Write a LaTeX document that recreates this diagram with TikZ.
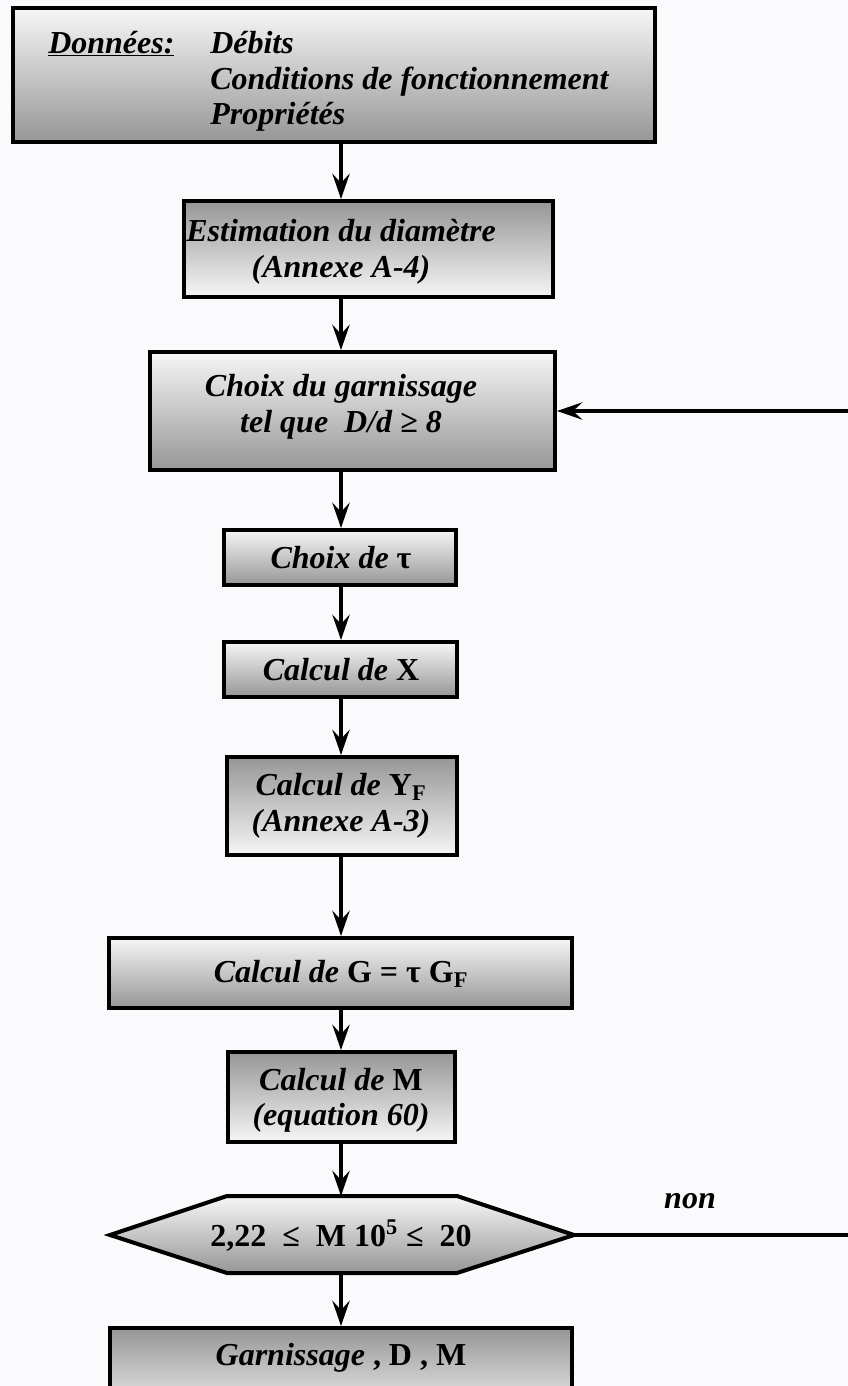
\documentclass[tikz,border=0pt]{standalone}
\usepackage{fontspec}
\setmainfont{Liberation Serif}
\usetikzlibrary{arrows.meta,fit}
\definecolor{paper}{RGB}{250,250,252}
\definecolor{shadeD}{RGB}{150,150,150}
\definecolor{shadeL}{RGB}{246,246,246}
\tikzset{
  box/.style={draw=black, line width=3pt, rectangle, inner sep=0pt},
  lighttop/.style={top color=shadeL, bottom color=shadeD},
  darktop/.style={top color=shadeD, bottom color=shadeL},
  flow/.style={line width=2.4pt, -{Stealth[length=19pt,width=13pt,inset=7pt]}},
  txt/.style={font=\fontsize{24}{27}\selectfont\bfseries\itshape, align=center, inner sep=0pt},
}
\newcommand{\rom}[1]{{\upshape #1}}
\begin{document}
\begin{tikzpicture}[x=0.75pt,y=-0.75pt]
\path[fill=paper] (0,0) rectangle (848,1386);
\useasboundingbox (0,0) rectangle (848,1386);
\clip (0,0) rectangle (848,1386);
\coordinate (col) at (341,0);

% data box
\node[box, lighttop, fit={(13,8) (655,142)}] (b1) {};
\node[txt, anchor=base west] (d0) at (48,53) {\underline{Données:}};
\node[txt, anchor=base west] (d1) at (210,53) {Débits};
\node[txt, anchor=base west] (d2) at (210,89) {Conditions de fonctionnement};
\node[txt, anchor=base west] (d3) at (210,124) {Propriétés};

% diameter estimate
\node[box, darktop, fit={(184,201) (553,297)}] (b2) {};
\node[txt] (t2) at (341,252) {Estimation du diamètre\\(Annexe A-4)};

% packing choice
\node[box, lighttop, fit={(150,352) (555,470)}] (b3) {};
\node[txt] (t3) at (341,407) {Choix du garnissage\\tel que~ D/d ≥ 8};

% tau
\node[box, lighttop, fit={(224,530) (456,585)}] (b4) {};
\node[txt] (t4) at (341,558) {Choix de \rom{τ}};

% X
\node[box, lighttop, fit={(224,642) (457,697)}] (b5) {};
\node[txt] (t5) at (341,670) {Calcul de \rom{X}};

% Y_F
\node[box, darktop, fit={(227,757) (457,855)}] (b6) {};
\node[txt] (t6) at (341,806) {Calcul de \rom{Y\textsubscript{F}}\\(Annexe A-3)};

% G
\node[box, lighttop, fit={(109,938) (572,1008)}] (b7) {};
\node[txt] (t7) at (341,974) {Calcul de \rom{G = τ G\textsubscript{F}}};

% M
\node[box, darktop, fit={(228,1052) (455,1142)}] (b8) {};
\node[txt, font=\fontsize{24}{26}\selectfont\bfseries\itshape] (t8) at (341,1100) {Calcul de \rom{M}\\(equation 60)};

% test
\coordinate (hexW) at (110,1235);
\coordinate (hexE) at (574,1235);
\coordinate (hexN) at (341,1196);
\coordinate (hexS) at (341,1273);
\draw[line width=3pt, lighttop, line join=miter]
  (hexW) -- (227,1196) -- (457,1196) -- (hexE) -- (457,1273) -- (227,1273) -- cycle;
\node[txt] (t9) at (341,1236) {\rom{2,22 ~≤~ M 10\textsuperscript{5}~≤~ 20}};
\node[txt] (non) at (690,1201) {non};

% result
\node[box, darktop, fit={(110,1328) (572,1420)}] (b10) {};
\node[txt] (t10) at (341,1358) {Garnissage\rom{ , D , M}};

% main flow
\draw[flow] (b1.south -| col) -- (b2.north -| col);
\draw[flow] (b2.south -| col) -- (b3.north -| col);
\draw[flow] (b3.south -| col) -- (b4.north -| col);
\draw[flow] (b4.south -| col) -- (b5.north -| col);
\draw[flow] (b5.south -| col) -- (b6.north -| col);
\draw[flow] (b6.south -| col) -- (b7.north -| col);
\draw[flow] (b7.south -| col) -- (b8.north -| col);
\draw[flow] (b8.south -| col) -- (hexN);
\draw[flow] (hexS) -- (b10.north -| col);

% loop back
\draw[flow] (hexE) -- (880,1235) |- (b3.east);
\end{tikzpicture}
\end{document}
